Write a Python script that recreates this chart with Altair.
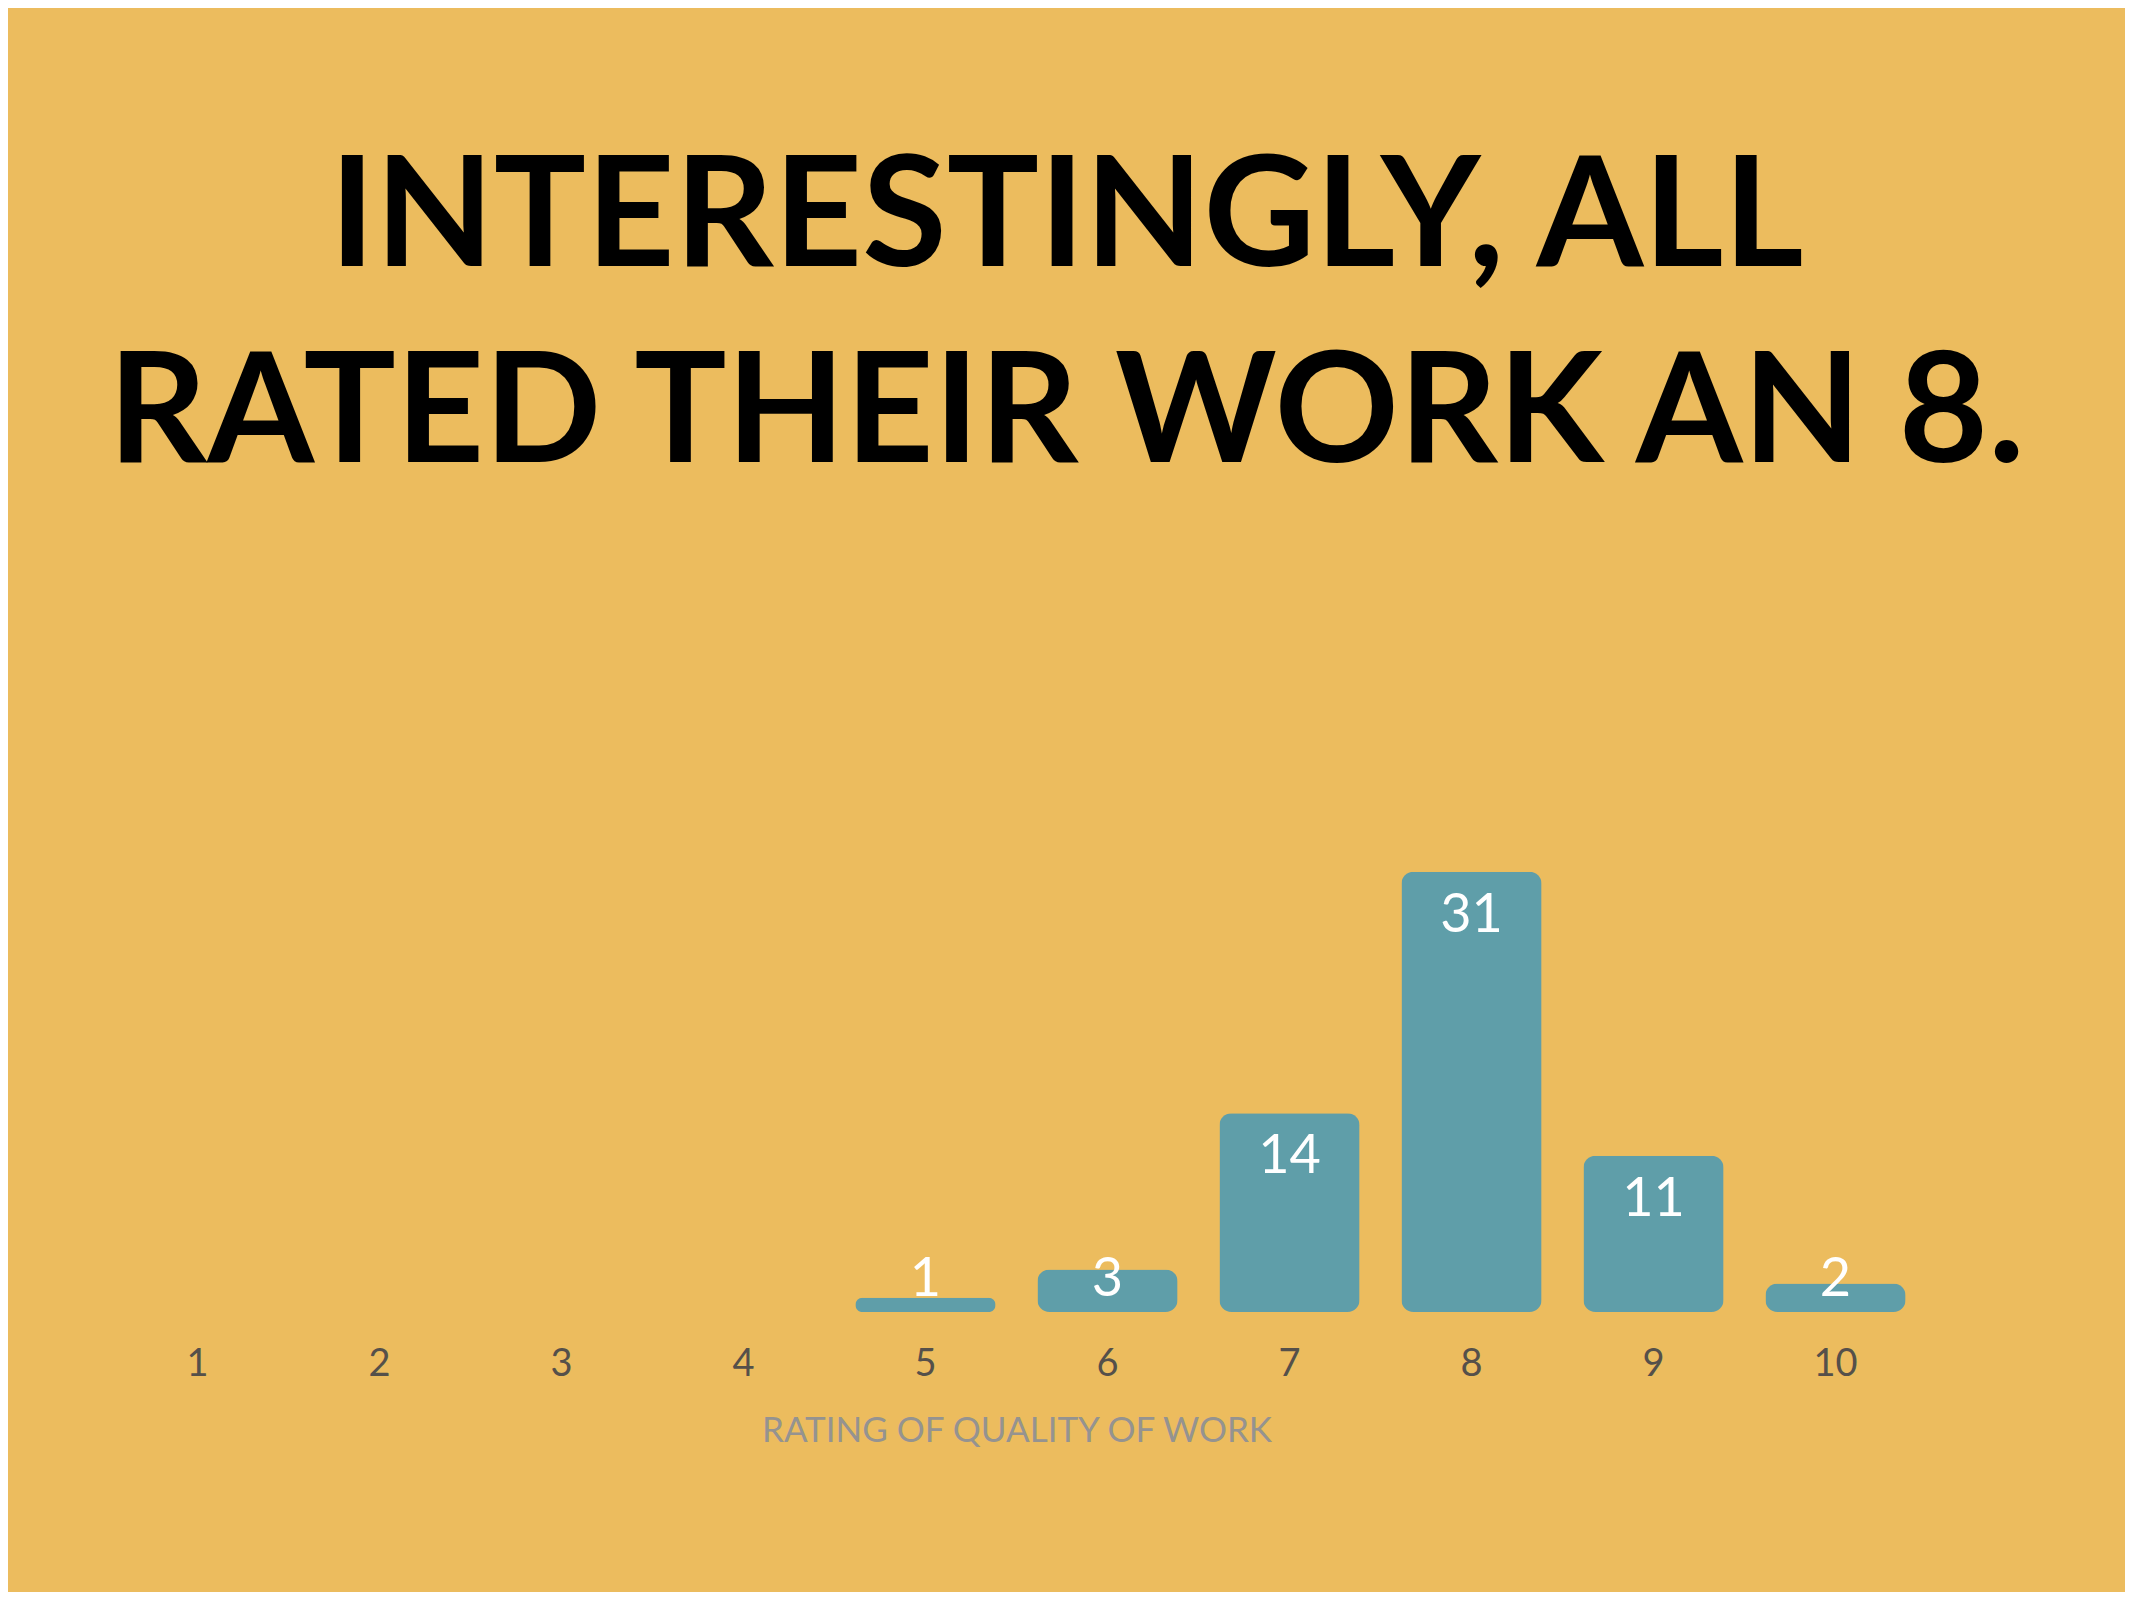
import altair as alt
import pandas as pd

ratings = ["1", "2", "3", "4", "5", "6", "7", "8", "9", "10"]
counts = [0, 0, 0, 0, 1, 3, 14, 31, 11, 2]
label_texts = ["", "", "", "", "1", "3", "14", "31", "11", "2"]

title_lines = ["INTERESTINGLY, ALL", "RATED THEIR WORK AN 8."]
x_title = "RATING OF QUALITY OF WORK"

BG = "#ECBC5E"
BAR = "#5F9EA9"
FONT = "Lato"

df = pd.DataFrame({"rating": ratings, "count": counts, "label": label_texts})

base = alt.Chart(df).encode(
    x=alt.X(
        "rating:N",
        sort=ratings,
        scale=alt.Scale(domain=ratings, paddingInner=0.23, paddingOuter=0.115),
        axis=alt.Axis(
            title=x_title,
            labelAngle=0,
            labelFont=FONT,
            labelFontSize=38,
            labelColor="#55504a",
            labelPadding=33,
            ticks=False,
            tickSize=0,
            domain=False,
            grid=False,
            titleFont=FONT,
            titleFontSize=35,
            titleFontWeight="normal",
            titleColor="#959390",
            titlePadding=30,
        ),
    )
)

bars = base.transform_filter("datum.count > 0").mark_bar(
    color=BAR, cornerRadius=12
).encode(
    y=alt.Y("count:Q", scale=alt.Scale(domain=[0, 40]), axis=None),
)

labels = base.transform_filter("datum.count > 0").transform_calculate(
    pos="max(datum.count - 4.23, 1.13)"
).mark_text(
    color="white", font=FONT, fontSize=54, baseline="alphabetic", align="center"
).encode(
    y=alt.Y("pos:Q", scale=alt.Scale(domain=[0, 40]), axis=None),
    text="label:N",
)

chart = alt.layer(bars, labels).properties(
    width=1820,
    height=568,
    title=alt.TitleParams(
        text=title_lines,
        font=FONT,
        fontSize=154,
        fontWeight="bold",
        color="#000000",
        lineHeight=196,
        anchor="middle",
        offset=250,
        dx=50,
    ),
    autosize=alt.AutoSizeParams(type="none"),
    padding={"left": 98.5, "top": 736, "right": 198.5, "bottom": 280},
).configure(background=BG).configure_view(stroke=None)

chart.save("out.html", embed_options={"renderer": "svg", "actions": False})
